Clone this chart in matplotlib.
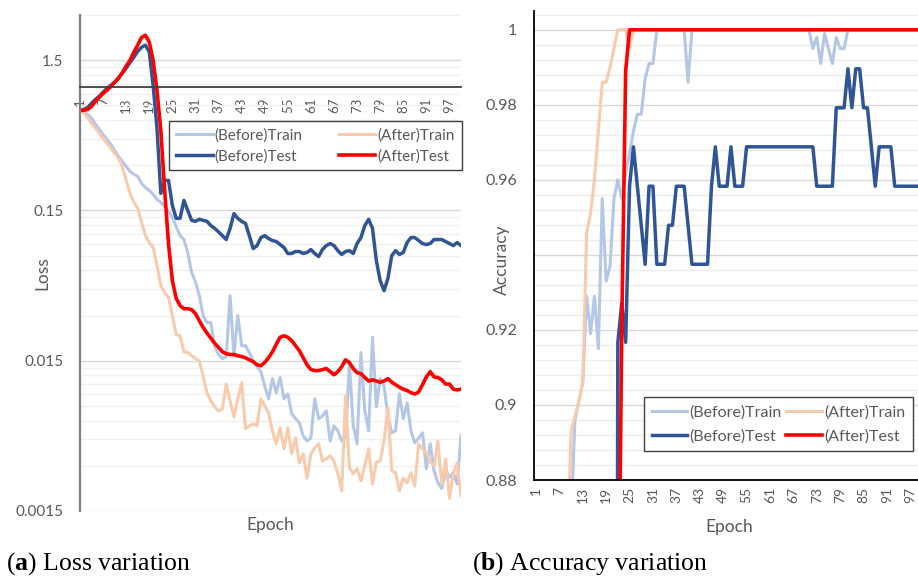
"""
Loss and accuracy curves before / after, two panels side by side.
"""

import numpy as np
import matplotlib
matplotlib.use("Agg")
import matplotlib.pyplot as plt
from matplotlib.ticker import FixedLocator, NullFormatter

plt.rcParams['font.family'] = ['Lato', 'DejaVu Sans']
plt.rcParams['mathtext.fontset'] = 'custom'
plt.rcParams['mathtext.rm'] = 'Liberation Serif'
plt.rcParams['mathtext.bf'] = 'Liberation Serif:bold'

epochs = np.arange(1, 101)
epoch_ticks = list(range(1, 100, 6))

# loss per epoch (log axis)
before_train_loss = [
    0.696, 0.675, 0.655, 0.616, 0.562, 0.520, 0.481, 0.446, 0.413, 0.377,
    0.344, 0.318, 0.295, 0.273, 0.261, 0.253, 0.227, 0.213, 0.204, 0.192,
    0.178, 0.170, 0.160, 0.148, 0.135, 0.117, 0.102, 0.0961, 0.0788, 0.0579,
    0.0504, 0.0407, 0.0300, 0.0269, 0.0269, 0.0186, 0.0165, 0.0155, 0.0160, 0.0407,
    0.0162, 0.0300, 0.0189, 0.0189, 0.0170, 0.0150, 0.0137, 0.0127, 0.0102, 0.00838,
    0.0114, 0.00917, 0.0116, 0.00838, 0.0090, 0.00668, 0.00618, 0.00580, 0.00474, 0.00439,
    0.00460, 0.00838, 0.00618, 0.00644, 0.00696, 0.00439, 0.00553, 0.00512, 0.00439, 0.00467,
    0.0146, 0.00553, 0.00420, 0.0170, 0.00696, 0.00512, 0.0215, 0.00740, 0.0114, 0.0102,
    0.00644, 0.00497, 0.00512, 0.00904, 0.00618, 0.00788, 0.00512, 0.00426, 0.00460, 0.00497,
    0.00287, 0.00420, 0.00277, 0.00231, 0.00212, 0.00277, 0.00252, 0.00270, 0.00227, 0.00474,
]
after_train_loss = [
    0.696, 0.665, 0.626, 0.571, 0.528, 0.489, 0.453, 0.420, 0.389, 0.360,
    0.333, 0.295, 0.238, 0.195, 0.170, 0.155, 0.125, 0.102, 0.0918, 0.0850,
    0.0644, 0.0474, 0.0426, 0.0395, 0.0300, 0.0224, 0.0220, 0.0172, 0.0170, 0.0162,
    0.0155, 0.0150, 0.0119, 0.00917, 0.00811, 0.00740, 0.00696, 0.00718, 0.0105, 0.00811,
    0.00634, 0.00838, 0.0107, 0.00528, 0.00553, 0.00571, 0.00553, 0.00838, 0.00751, 0.00675,
    0.00512, 0.00420, 0.00536, 0.00389, 0.00536, 0.00360, 0.00460, 0.00313, 0.00360, 0.00248,
    0.00360, 0.00395, 0.00420, 0.00323, 0.00333, 0.00349, 0.00323, 0.00266, 0.00204, 0.00876,
    0.00291, 0.00266, 0.00287, 0.00238, 0.00300, 0.00389, 0.00227, 0.00318, 0.00323, 0.00439,
    0.00729, 0.00277, 0.00270, 0.00204, 0.00248, 0.00231, 0.00270, 0.00220, 0.00420, 0.00389,
    0.00366, 0.00318, 0.00300, 0.00439, 0.00227, 0.00333, 0.00183, 0.00266, 0.00313, 0.00189,
]
before_test_loss = [
    0.696, 0.706, 0.728, 0.775, 0.823, 0.863, 0.918, 0.976, 1.02, 1.07,
    1.14, 1.23, 1.33, 1.45, 1.57, 1.72, 1.83, 1.89, 1.70, 1.02,
    0.53, 0.195, 0.238, 0.238, 0.162, 0.133, 0.133, 0.175, 0.150, 0.129,
    0.127, 0.131, 0.129, 0.127, 0.119, 0.114, 0.108, 0.102, 0.0961, 0.114,
    0.143, 0.133, 0.127, 0.123, 0.102, 0.0837, 0.0876, 0.0991, 0.102, 0.0976,
    0.0946, 0.0932, 0.0890, 0.0850, 0.0776, 0.0776, 0.0800, 0.0800, 0.0776, 0.0788,
    0.0824, 0.0776, 0.0740, 0.0824, 0.0876, 0.0904, 0.0876, 0.0811, 0.0764, 0.0800,
    0.0811, 0.0776, 0.0904, 0.0991, 0.119, 0.131, 0.114, 0.0696, 0.0512, 0.0439,
    0.0528, 0.0751, 0.0811, 0.0764, 0.0788, 0.0918, 0.0991, 0.0991, 0.0946, 0.0904,
    0.0890, 0.0904, 0.0961, 0.0961, 0.0961, 0.0932, 0.0904, 0.0876, 0.0918, 0.0876,
]
after_test_loss = [
    0.696, 0.696, 0.706, 0.738, 0.799, 0.850, 0.903, 0.946, 1.00, 1.07,
    1.14, 1.24, 1.37, 1.50, 1.70, 1.89, 2.13, 2.20, 1.98, 1.50,
    0.946, 0.512, 0.204, 0.090, 0.0512, 0.0390, 0.0349, 0.0333, 0.0333, 0.0328,
    0.0309, 0.0277, 0.0250, 0.0229, 0.0212, 0.0196, 0.0184, 0.0172, 0.0167, 0.0165,
    0.0165, 0.0162, 0.0160, 0.0157, 0.0152, 0.0148, 0.0141, 0.0139, 0.0146, 0.0157,
    0.0172, 0.0193, 0.0215, 0.0220, 0.0215, 0.0204, 0.0189, 0.0175, 0.0157, 0.0141,
    0.0131, 0.0129, 0.0129, 0.0131, 0.0133, 0.0127, 0.0121, 0.0127, 0.0137, 0.0152,
    0.0146, 0.0133, 0.0125, 0.0123, 0.0116, 0.0110, 0.0112, 0.0110, 0.0108, 0.0110,
    0.0114, 0.0108, 0.0104, 0.0100, 0.0097, 0.0095, 0.0092, 0.0090, 0.0093, 0.0104,
    0.0117, 0.0127, 0.0117, 0.0116, 0.0112, 0.0105, 0.0105, 0.0097, 0.0096, 0.0097,
]

# accuracy per epoch (early epochs sit below the 0.88 floor of the axis)
before_train_acc = [
    0.52, 0.58, 0.63, 0.68, 0.72, 0.76, 0.80, 0.83, 0.85, 0.87,
    0.896, 0.901, 0.906, 0.929, 0.919, 0.929, 0.915, 0.955, 0.933, 0.937,
    0.955, 0.960, 0.955, 0.962, 0.967, 0.973, 0.9775, 0.9775, 0.987, 0.991,
    0.991, 1.0, 1.0, 1.0, 1.0, 1.0, 1.0, 1.0, 1.0, 0.986,
    1.0, 1.0, 1.0, 1.0, 1.0, 1.0, 1.0, 1.0, 1.0, 1.0,
    1.0, 1.0, 1.0, 1.0, 1.0, 1.0, 1.0, 1.0, 1.0, 1.0,
    1.0, 1.0, 1.0, 1.0, 1.0, 1.0, 1.0, 1.0, 1.0, 1.0,
    1.0, 0.995, 0.998, 0.991, 0.999, 0.995, 0.991, 0.998, 0.995, 0.995,
    1.0, 1.0, 1.0, 1.0, 1.0, 1.0, 1.0, 1.0, 1.0, 1.0,
    1.0, 1.0, 1.0, 1.0, 1.0, 1.0, 1.0, 1.0, 1.0, 1.0,
]
after_train_acc = [
    0.55, 0.61, 0.66, 0.70, 0.74, 0.78, 0.81, 0.84, 0.86, 0.893,
    0.897, 0.901, 0.906, 0.946, 0.951, 0.960, 0.973, 0.986, 0.986, 0.990,
    0.995, 1.0, 1.0, 1.0, 0.995, 1.0, 1.0, 1.0, 1.0, 1.0,
    1.0, 1.0, 1.0, 1.0, 1.0, 1.0, 1.0, 1.0, 1.0, 1.0,
    1.0, 1.0, 1.0, 1.0, 1.0, 1.0, 1.0, 1.0, 1.0, 1.0,
    1.0, 1.0, 1.0, 1.0, 1.0, 1.0, 1.0, 1.0, 1.0, 1.0,
    1.0, 1.0, 1.0, 1.0, 1.0, 1.0, 1.0, 1.0, 1.0, 1.0,
    1.0, 1.0, 1.0, 1.0, 1.0, 1.0, 1.0, 1.0, 1.0, 1.0,
    1.0, 1.0, 1.0, 1.0, 1.0, 1.0, 1.0, 1.0, 1.0, 1.0,
    1.0, 1.0, 1.0, 1.0, 1.0, 1.0, 1.0, 1.0, 1.0, 1.0,
]
before_test_acc = [
    0.30, 0.33, 0.36, 0.38, 0.41, 0.43, 0.45, 0.47, 0.49, 0.51,
    0.52, 0.53, 0.54, 0.55, 0.56, 0.57, 0.58, 0.59, 0.60, 0.60,
    0.50, 0.9167, 0.9271, 0.9167, 0.9583, 0.9688, 0.9583, 0.9479, 0.9375, 0.9583,
    0.9583, 0.9375, 0.9375, 0.9375, 0.9479, 0.9479, 0.9583, 0.9583, 0.9583, 0.9479,
    0.9375, 0.9375, 0.9375, 0.9375, 0.9375, 0.9583, 0.9688, 0.9583, 0.9583, 0.9583,
    0.9688, 0.9583, 0.9583, 0.9583, 0.9688, 0.9688, 0.9688, 0.9688, 0.9688, 0.9688,
    0.9688, 0.9688, 0.9688, 0.9688, 0.9688, 0.9688, 0.9688, 0.9688, 0.9688, 0.9688,
    0.9688, 0.9688, 0.9583, 0.9583, 0.9583, 0.9583, 0.9583, 0.9792, 0.9792, 0.9792,
    0.9896, 0.9792, 0.9896, 0.9896, 0.9792, 0.9792, 0.9688, 0.9583, 0.9688, 0.9688,
    0.9688, 0.9688, 0.9583, 0.9583, 0.9583, 0.9583, 0.9583, 0.9583, 0.9583, 0.9583,
]
after_test_acc = [
    0.30, 0.32, 0.34, 0.36, 0.38, 0.40, 0.42, 0.44, 0.46, 0.48,
    0.50, 0.52, 0.54, 0.56, 0.58, 0.60, 0.62, 0.64, 0.66, 0.68,
    0.70, 0.82, 0.92, 0.989, 1.0, 1.0, 1.0, 1.0, 1.0, 1.0,
    1.0, 1.0, 1.0, 1.0, 1.0, 1.0, 1.0, 1.0, 1.0, 1.0,
    1.0, 1.0, 1.0, 1.0, 1.0, 1.0, 1.0, 1.0, 1.0, 1.0,
    1.0, 1.0, 1.0, 1.0, 1.0, 1.0, 1.0, 1.0, 1.0, 1.0,
    1.0, 1.0, 1.0, 1.0, 1.0, 1.0, 1.0, 1.0, 1.0, 1.0,
    1.0, 1.0, 1.0, 1.0, 1.0, 1.0, 1.0, 1.0, 1.0, 1.0,
    1.0, 1.0, 1.0, 1.0, 1.0, 1.0, 1.0, 1.0, 1.0, 1.0,
    1.0, 1.0, 1.0, 1.0, 1.0, 1.0, 1.0, 1.0, 1.0, 1.0,
]

loss_ticks = [0.0015, 0.015, 0.15, 1.5]
loss_tick_labels = ['0.0015', '0.015', '0.15', '1.5']
acc_ticks = [0.88, 0.90, 0.92, 0.94, 0.96, 0.98, 1.0]
acc_tick_labels = ['0.88', '0.9', '0.92', '', '0.96', '0.98', '1']

series_names = ['(Before)Train', '(After)Train', '(Before)Test', '(After)Test']
colors = ['#B4C7E7', '#F8CBAD', '#2F5597', '#FF0000']
widths = [2.2, 2.2, 2.5, 2.6]
TEXT = '#595959'
LABEL_SIZE = 12.5


def draw_lines(ax, data):
    handles = []
    for vals, name, c, w in zip(data, series_names, colors, widths):
        h, = ax.plot(epochs, vals, color=c, lw=w, label=name,
                     solid_joinstyle='round')
        handles.append(h)
    return handles


def add_legend(ax, handles, box, fontsize, spacing, hlen, bpad):
    # column-wise fill: col 1 = Before, col 2 = After
    order = [handles[0], handles[2], handles[1], handles[3]]
    leg = ax.legend(handles=order, labels=[h.get_label() for h in order],
                    ncol=2, loc='upper left', bbox_to_anchor=box,
                    mode='expand', borderaxespad=0, fontsize=fontsize,
                    frameon=True, fancybox=False, framealpha=1,
                    edgecolor='#404040', handlelength=hlen,
                    handletextpad=0.15, labelspacing=spacing,
                    borderpad=bpad, labelcolor=TEXT)
    leg.get_frame().set_linewidth(1.0)
    leg.set_zorder(5)


def plot_loss(fig):
    ax = fig.add_axes([80 / 918, 65 / 576, 381 / 918, 496 / 576])
    handles = draw_lines(ax, [before_train_loss, after_train_loss,
                              before_test_loss, after_test_loss])
    ax.set_yscale('log')
    ax.set_ylim(0.0015, 3.0)
    ax.set_xlim(1, 100)

    ax.yaxis.set_major_locator(FixedLocator(loss_ticks))
    ax.set_yticklabels(loss_tick_labels)
    minor = [k * t for t in loss_ticks for k in range(2, 10)]
    ax.yaxis.set_minor_locator(FixedLocator(minor))
    ax.yaxis.set_minor_formatter(NullFormatter())

    ax.set_xticks(epoch_ticks)
    ax.set_xticklabels([str(t) for t in epoch_ticks])
    ax.tick_params(axis='x', length=0, pad=8, labelrotation=90,
                   labelsize=9.5, labelcolor=TEXT)
    ax.tick_params(axis='y', which='both', length=0, pad=12,
                   labelsize=11, labelcolor=TEXT)

    ax.grid(which='major', axis='y', color='#D9D9D9', lw=1.0)
    ax.grid(which='minor', axis='y', color='#F0F0F0', lw=1.0)
    ax.set_axisbelow(True)

    # horizontal axis crosses at loss = 1
    ax.spines['bottom'].set_position(('data', 1.0))
    ax.spines['bottom'].set_color('#404040')
    ax.spines['bottom'].set_linewidth(1.3)
    ax.spines['left'].set_color('#808080')
    ax.spines['left'].set_linewidth(1.6)
    ax.spines['top'].set_visible(False)
    ax.spines['right'].set_visible(False)

    top = 1 - (121 - 15) / 496
    add_legend(ax, handles, (0.2336, top - 0.01, 0.769, 0.01), 11, 0.45, 2.4, 0.45)

    fig.text(42 / 918, 1 - 273 / 576, 'Loss', rotation=90, ha='center',
             va='center', fontsize=LABEL_SIZE, color=TEXT)
    fig.text(270 / 918, 1 - 525 / 576, 'Epoch', ha='center', va='center',
             fontsize=LABEL_SIZE, color=TEXT)


def plot_accuracy(fig):
    ax = fig.add_axes([534 / 918, 96 / 576, 390 / 918, 469 / 576])
    handles = draw_lines(ax, [before_train_acc, after_train_acc,
                              before_test_acc, after_test_acc])
    ax.set_ylim(0.88, 1.005)
    ax.set_xlim(0.5, 100.5)

    ax.set_yticks(acc_ticks)
    ax.set_yticklabels(acc_tick_labels)
    ax.yaxis.set_minor_locator(FixedLocator(np.arange(0.884, 1.006, 0.004)))
    ax.yaxis.set_minor_formatter(NullFormatter())

    ax.set_xticks(epoch_ticks)
    ax.set_xticklabels([str(t) for t in epoch_ticks])
    ax.tick_params(axis='x', length=0, pad=5, labelrotation=90,
                   labelsize=10, labelcolor=TEXT)
    ax.tick_params(axis='y', which='both', length=0, pad=12,
                   labelsize=11.5, labelcolor=TEXT)

    ax.grid(which='major', axis='y', color='#D9D9D9', lw=1.0)
    ax.grid(which='minor', axis='y', color='#EDEDED', lw=1.0)
    ax.set_axisbelow(True)

    for side in ['left', 'bottom']:
        ax.spines[side].set_color('#000000')
        ax.spines[side].set_linewidth(1.3)
    ax.spines['top'].set_visible(False)
    ax.spines['right'].set_visible(False)

    top = 1 - (397 - 11) / 469
    add_legend(ax, handles, (0.282, top - 0.01, 0.69, 0.01), 11.5, 0.6, 2.2, 0.5)

    fig.text(502 / 918, 1 - 260 / 576, 'Accuracy', rotation=90, ha='center',
             va='center', fontsize=LABEL_SIZE, color=TEXT)
    fig.text(729 / 918, 1 - 527 / 576, 'Epoch', ha='center', va='center',
             fontsize=LABEL_SIZE, color=TEXT)


def main():
    fig = plt.figure(figsize=(9.18, 5.76), dpi=100)
    plot_loss(fig)
    plot_accuracy(fig)

    fig.text(6 / 918, 1 - 564 / 576, r'($\mathbf{a}$) Loss variation',
             family='Liberation Serif', fontsize=18.5, va='center', color='black')
    fig.text(472 / 918, 1 - 564 / 576, r'($\mathbf{b}$) Accuracy variation',
             family='Liberation Serif', fontsize=18.5, va='center', color='black')

    fig.savefig('out.png', dpi=100)


if __name__ == '__main__':
    main()
